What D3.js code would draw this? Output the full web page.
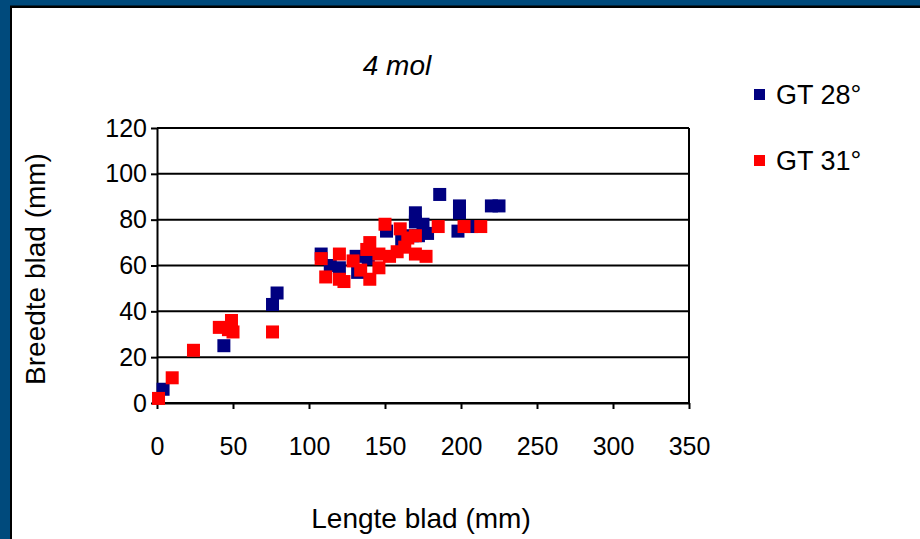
<!DOCTYPE html>
<html><head><meta charset="utf-8">
<script src="https://cdn.jsdelivr.net/npm/d3@7"></script>
<style>body{margin:0;background:#fff}svg{display:block}text{font-family:"Liberation Sans",Arial,sans-serif;fill:#000}</style>
</head><body>
<svg id="c" width="920" height="539"></svg>
<script>
const title = "4 mol";
const xTitle = "Lengte blad (mm)";
const yTitle = "Breedte blad (mm)";
const seriesNames = ["GT 28°", "GT 31°"];
const seriesColors = ["#000080", "#FF0000"];
const xTicks = [0, 50, 100, 150, 200, 250, 300, 350];
const yTicks = [0, 20, 40, 60, 80, 100, 120];
const gt28x = [4, 44, 76, 79, 108, 114, 120, 131, 132, 139, 151, 161, 168, 170, 170, 172, 175, 178, 186, 198, 199, 199, 207, 220, 225];
const gt28y = [6, 25, 43, 48, 65, 60, 59, 64, 57, 63, 75, 71, 73, 83, 79, 73, 78, 74, 91, 75, 86, 83, 77, 86, 86];
const gt31x = [1, 10, 24, 41, 47, 49, 50, 76, 108, 111, 120, 120, 123, 129, 134, 138, 140, 140, 146, 146, 150, 153, 158, 160, 163, 165, 170, 170, 177, 185, 202, 213];
const gt31y = [2, 11, 23, 33, 32, 36, 31, 31, 63, 55, 65, 54, 53, 62, 58, 67, 70, 54, 65, 59, 78, 64, 66, 76, 68, 72, 73, 65, 64, 77, 77, 77];

const svg = d3.select("#c");
// frame
svg.append("rect").attr("x",0).attr("y",0).attr("width",920).attr("height",539).attr("fill","#004A7C");
svg.append("rect").attr("x",10).attr("y",5.5).attr("width",910).attr("height",534).attr("fill","#000");
svg.append("rect").attr("x",12).attr("y",8).attr("width",908).attr("height",531).attr("fill","#fff");

const L=157, R=689, T=128, B=403;
const x = d3.scaleLinear().domain([0,350]).range([L,R]);
const y = d3.scaleLinear().domain([0,120]).range([B,T]);

// gridlines
svg.append("g").selectAll("line").data(yTicks).join("line")
  .attr("x1",L).attr("x2",R).attr("y1",d=>y(d)).attr("y2",d=>y(d))
  .attr("stroke","#000").attr("stroke-width",2);
svg.append("line").attr("x1",R).attr("x2",R).attr("y1",T).attr("y2",B).attr("stroke","#000").attr("stroke-width",2);

const xAxis = svg.append("g").attr("transform",`translate(0,${B})`)
  .call(d3.axisBottom(x).tickValues(xTicks).tickSize(6).tickSizeOuter(0).tickPadding(28));
const yAxis = svg.append("g").attr("transform",`translate(${L},0)`)
  .call(d3.axisLeft(y).tickValues(yTicks).tickSize(6).tickSizeOuter(0).tickPadding(4));
[xAxis,yAxis].forEach(a=>{
  a.select(".domain").attr("stroke","#000").attr("stroke-width",2);
  a.selectAll(".tick line").attr("stroke","#000").attr("stroke-width",2);
  a.selectAll(".tick text").attr("font-size",25).attr("font-family","Liberation Sans, Arial, sans-serif").attr("fill","#000");
});

const sz = 13;
const series = [
  {xs: gt28x, ys: gt28y, c: seriesColors[0]},
  {xs: gt31x, ys: gt31y, c: seriesColors[1]}
];
series.forEach(s=>{
  svg.append("g").selectAll("rect").data(s.xs.map((v,i)=>[v,s.ys[i]])).join("rect")
    .attr("x",d=>x(d[0])-sz/2).attr("y",d=>y(d[1])-sz/2)
    .attr("width",sz).attr("height",sz).attr("fill",s.c);
});

svg.append("text").attr("x",397).attr("y",75).attr("text-anchor","middle")
  .attr("font-size",28).attr("font-style","italic").text(title);
svg.append("text").attr("x",421).attr("y",528).attr("text-anchor","middle")
  .attr("font-size",28).text(xTitle);
svg.append("text").attr("transform","translate(45,269) rotate(-90)").attr("text-anchor","middle")
  .attr("font-size",28).text(yTitle);

seriesNames.forEach((n,i)=>{
  const cy = 94 + i*66;
  svg.append("rect").attr("x",754).attr("y",cy-5).attr("width",11).attr("height",11).attr("fill",seriesColors[i]);
  svg.append("text").attr("x",776).attr("y",cy+10).attr("font-size",27).text(n);
});
</script>
</body></html>
